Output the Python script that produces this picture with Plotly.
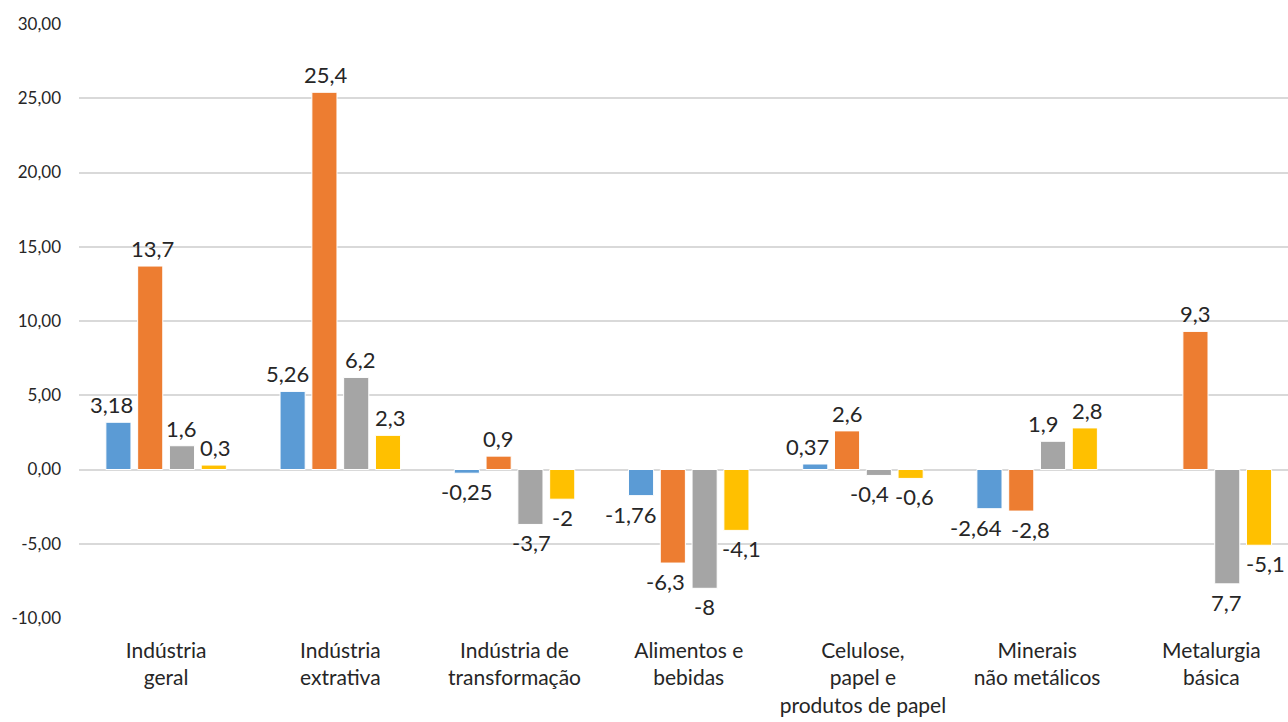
import plotly.graph_objects as go

categories = [
    "Indústria<br>geral",
    "Indústria<br>extrativa",
    "Indústria de<br>transformação",
    "Alimentos e<br>bebidas",
    "Celulose,<br>papel e<br>produtos de papel",
    "Minerais<br>não metálicos",
    "Metalurgia<br>básica",
]

series_blue = [3.18, 5.26, -0.25, -1.76, 0.37, -2.64, None]
series_orange = [13.7, 25.4, 0.9, -6.3, 2.6, -2.8, 9.3]
series_gray = [1.6, 6.2, -3.7, -8.0, -0.4, 1.9, -7.7]
series_yellow = [0.3, 2.3, -2.0, -4.1, -0.6, 2.8, -5.1]

labels_blue = ["3,18", "5,26", "-0,25", "-1,76", "0,37", "-2,64", ""]
labels_orange = ["13,7", "25,4", "0,9", "-6,3", "2,6", "-2,8", "9,3"]
labels_gray = ["1,6", "6,2", "-3,7", "-8", "-0,4", "1,9", "7,7"]
labels_yellow = ["0,3", "2,3", "-2", "-4,1", "-0,6", "2,8", "-5,1"]

tick_vals = [-10, -5, 0, 5, 10, 15, 20, 25, 30]
tick_text = ["-10,00", "-5,00", "0,00", "5,00", "10,00", "15,00", "20,00", "25,00", "30,00"]

# --- styling / geometry -------------------------------------------------
colors = ["#5B9BD5", "#ED7D31", "#A5A5A5", "#FFC000"]
FONT = "Lato, 'Open Sans', sans-serif"
W, H = 1288, 722
M_L, M_R, M_T, M_B = 79, 0, 24, 104
X_RANGE = [-0.5, 6.44]
BARGAP, GROUPGAP = 0.27, 0.21

# small horizontal nudges (px) of individual labels so neighbours don't collide
label_nudge = [
    [-7, -5, 0, -11, -8, -13, 0],   # blue
    [2, 2, 0, -7, 0, 9, 0],          # orange
    [0, 4, 1, 0, -9, -10, -1],       # gray
    [2, 3, 0, 5, 4, 3, 6],           # yellow
]

series = [
    (series_blue, labels_blue),
    (series_orange, labels_orange),
    (series_gray, labels_gray),
    (series_yellow, labels_yellow),
]

fig = go.Figure()
for (vals, _), col in zip(series, colors):
    fig.add_trace(go.Bar(
        x=categories, y=vals,
        marker=dict(color=col, line=dict(color="white", width=1)),
        showlegend=False,
    ))

# pixel width of one bar slot, used to place each label over its bar
plot_w = W - M_L - M_R
cat_px = plot_w / (X_RANGE[1] - X_RANGE[0])
slot_px = cat_px * (1 - BARGAP) / len(series)

annotations = []
for s, (vals, txts) in enumerate(series):
    offset = (s - (len(series) - 1) / 2) * slot_px
    for c, (v, t) in enumerate(zip(vals, txts)):
        if v is None or not t:
            continue
        pos = v >= 0
        annotations.append(dict(
            x=categories[c], y=v, xref="x", yref="y",
            text=t, showarrow=False,
            xshift=offset + label_nudge[s][c],
            yshift=2 if pos else -3,
            yanchor="bottom" if pos else "top",
            font=dict(size=22, color="#262626", family=FONT),
        ))

fig.update_layout(
    width=W, height=H,
    margin=dict(l=M_L, r=M_R, t=M_T, b=M_B),
    paper_bgcolor="white", plot_bgcolor="white",
    barmode="group", bargap=BARGAP, bargroupgap=GROUPGAP,
    annotations=annotations,
    font=dict(family=FONT, color="#262626"),
)
fig.update_xaxes(
    range=X_RANGE,
    showgrid=False, showline=False, ticks="",
    tickfont=dict(size=21, family=FONT, color="#262626"),
    ticklabelstandoff=18,
)
fig.update_yaxes(
    range=[-10, 30], tickvals=tick_vals, ticktext=tick_text,
    showgrid=True, gridcolor="#D9D9D9", gridwidth=2,
    zeroline=True, zerolinecolor="#D9D9D9", zerolinewidth=2,
    showline=False, ticks="",
    tickfont=dict(size=17, family=FONT, color="#262626"),
    ticklabelstandoff=17,
)

fig.write_html("out.html")
